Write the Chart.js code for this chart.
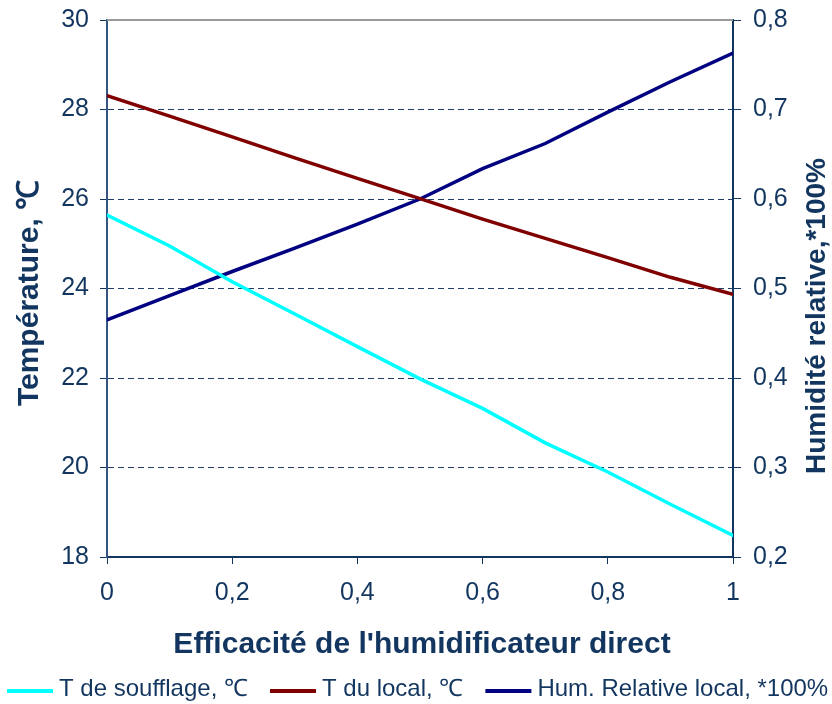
<!DOCTYPE html>
<html>
<head>
<meta charset="utf-8">
<script src="https://cdn.jsdelivr.net/npm/chart.js@4"></script>
<style>
  html, body { margin: 0; padding: 0; background: #fff; overflow: hidden; }
  #wrap { width: 832px; height: 704px; }
</style>
</head>
<body>
<div id="wrap"><canvas id="chart" width="832" height="704"></canvas></div>
<script>
// ── data ──
const efficacite = [0, 0.1, 0.2, 0.3, 0.4, 0.5, 0.6, 0.7, 0.8, 0.9, 1];
const tSoufflage = [25.64, 24.95, 24.15, 23.43, 22.70, 21.98, 21.32, 20.55, 19.90, 19.18, 18.48];
const tLocal = [28.31, 27.85, 27.39, 26.92, 26.46, 26.01, 25.55, 25.12, 24.69, 24.25, 23.87];
const humLocal = [0.465, 0.492, 0.519, 0.545, 0.572, 0.600, 0.634, 0.662, 0.697, 0.731, 0.763];

const seriesNames = ['T de soufflage, \u2103', 'T du local, \u2103', 'Hum. Relative local, *100%'];
const seriesColors = ['#00ffff', '#800000', '#000080'];

const xTitle = "Efficacit\u00e9 de l'humidificateur direct";
const yTitle = 'Temp\u00e9rature, \u2103';
const y1Title = 'Humidit\u00e9 relative,*100%';

const INK = '#12365f';
const FONT = "'Liberation Sans', Arial, sans-serif";

const pts = arr => arr.map((v, i) => ({ x: efficacite[i], y: v }));
const comma = v => String(Math.round(v * 10) / 10).replace('.', ',');
const noPad = s => { s.paddingTop = 0; s.paddingBottom = 0; s.paddingLeft = 0; s.paddingRight = 0; };

// titles + legend drawn by hand (right title reads bottom-to-top, legend runs off the edge)
const decor = {
  id: 'decor',
  afterDraw(chart) {
    const { ctx, chartArea: a } = chart;
    ctx.save();
    // grey top frame line
    ctx.strokeStyle = '#9a9a9a';
    ctx.lineWidth = 2;
    ctx.beginPath();
    ctx.moveTo(a.left, a.top);
    ctx.lineTo(a.right, a.top);
    ctx.stroke();

    ctx.fillStyle = INK;
    ctx.font = 'bold 30px ' + FONT;
    ctx.textAlign = 'center';
    ctx.textBaseline = 'middle';
    ctx.fillText(xTitle, 422, 645);

    ctx.save();
    ctx.translate(30, 293);
    ctx.rotate(-Math.PI / 2);
    ctx.fillText(yTitle, 0, 0);
    ctx.restore();

    ctx.font = 'bold 28px ' + FONT;
    ctx.save();
    ctx.translate(817, 316);
    ctx.rotate(-Math.PI / 2);
    ctx.fillText(y1Title, 0, 0);
    ctx.restore();

    // legend
    ctx.font = '24px ' + FONT;
    ctx.textAlign = 'left';
    let x = 7;
    chart.data.datasets.forEach(ds => {
      ctx.strokeStyle = ds.borderColor;
      ctx.lineWidth = 4;
      ctx.beginPath();
      ctx.moveTo(x, 691);
      ctx.lineTo(x + 46, 691);
      ctx.stroke();
      ctx.fillStyle = INK;
      ctx.fillText(ds.label, x + 52, 689);
      x += 52 + ctx.measureText(ds.label).width + 22;
    });
    ctx.restore();
  }
};

new Chart(document.getElementById('chart'), {
  type: 'line',
  data: {
    datasets: [
      { label: seriesNames[0], data: pts(tSoufflage), borderColor: seriesColors[0], yAxisID: 'y' },
      { label: seriesNames[1], data: pts(tLocal), borderColor: seriesColors[1], yAxisID: 'y' },
      { label: seriesNames[2], data: pts(humLocal), borderColor: seriesColors[2], yAxisID: 'y1' }
    ]
  },
  options: {
    responsive: false,
    animation: false,
    layout: { padding: { top: 20, left: 0, right: 0, bottom: 0 } },
    elements: {
      line: { borderWidth: 3.5, tension: 0, borderCapStyle: 'round' },
      point: { radius: 0 }
    },
    plugins: { legend: { display: false }, tooltip: { enabled: false } },
    scales: {
      x: {
        type: 'linear', min: 0, max: 1,
        afterFit: s => { s.height = 147; noPad(s); },
        ticks: { stepSize: 0.2, callback: comma, color: INK, font: { family: FONT, size: 25 }, padding: 14, maxRotation: 0 },
        grid: { drawOnChartArea: false, tickLength: 7, tickColor: INK, tickBorderDash: [] },
        border: { color: INK, width: 2 }
      },
      y: {
        position: 'left', min: 18, max: 30,
        afterFit: s => { s.width = 107; noPad(s); },
        ticks: { stepSize: 2, color: INK, font: { family: FONT, size: 25 }, padding: 11 },
        grid: {
          color: c => (c.tick && (c.tick.value === 18 || c.tick.value === 30)) ? 'rgba(0,0,0,0)' : '#1f3d66',
          lineWidth: 1, tickLength: 7, tickColor: INK, tickBorderDash: []
        },
        border: { color: '#33557f', width: 2, dash: [6, 4] }
      },
      y1: {
        position: 'right', min: 0.2, max: 0.8,
        afterFit: s => { s.width = 99; noPad(s); },
        ticks: { stepSize: 0.1, callback: comma, color: INK, font: { family: FONT, size: 25 }, padding: 12 },
        grid: { drawOnChartArea: false, tickLength: 8, tickColor: INK, tickBorderDash: [] },
        border: { color: INK, width: 2 }
      }
    }
  },
  plugins: [decor]
});
</script>
</body>
</html>
